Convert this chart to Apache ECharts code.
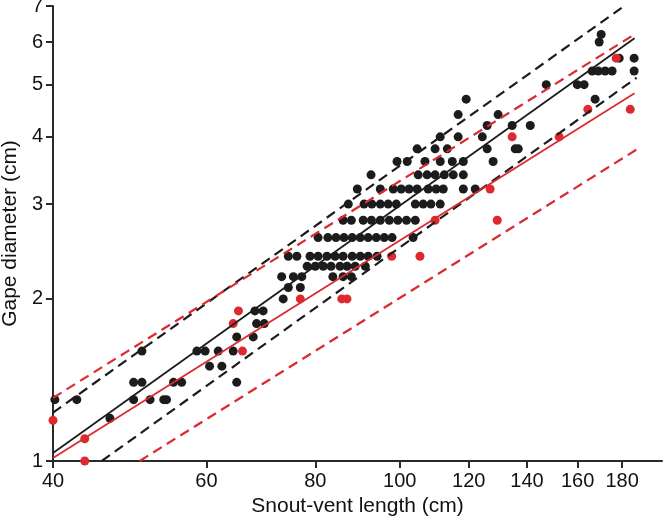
<!DOCTYPE html>
<html>
<head>
<meta charset="utf-8">
<script src="https://cdn.jsdelivr.net/npm/echarts@6/dist/echarts.min.js"></script>
<style>
  html, body { margin: 0; padding: 0; background: #fff; }
  #chart { width: 664px; height: 523px; }
</style>
</head>
<body>
<div id="chart"></div>
<script>
// tick values on both log axes
const xTicks = [40, 60, 80, 100, 120, 140, 160, 180];
const yTicks = [1, 2, 3, 4, 5, 6, 7];

// black points: [snout-vent length, gape diameter]
const blackPoints = [
    [46.5, 1.2],
    [40.2, 1.3], [42.6, 1.3], [49.5, 1.3], [51.7, 1.3], [53.6, 1.3], [54.0, 1.3],
    [49.5, 1.4], [50.6, 1.4], [55.0, 1.4], [56.2, 1.4], [65.0, 1.4],
    [60.5, 1.5], [62.5, 1.5],
    [50.6, 1.6], [58.5, 1.6], [59.8, 1.6], [61.9, 1.6], [64.4, 1.6],
    [65.0, 1.7], [67.9, 1.7],
    [68.5, 1.8], [69.9, 1.8],
    [68.2, 1.9], [69.7, 1.9],
    [73.5, 2.0],
    [74.5, 2.1], [76.9, 2.1],
    [73.2, 2.2], [75.5, 2.2], [77.2, 2.2], [83.8, 2.2], [86.1, 2.2], [88.0, 2.2],
    [78.3, 2.3], [80.0, 2.3], [81.7, 2.3], [83.4, 2.3], [85.4, 2.3], [87.0, 2.3], [88.9, 2.3], [91.3, 2.3],
    [74.5, 2.4], [76.2, 2.4], [78.9, 2.4], [80.6, 2.4], [82.5, 2.4], [84.3, 2.4], [86.1, 2.4],
    [88.2, 2.4], [90.1, 2.4], [92.0, 2.4], [94.2, 2.4],
    [80.6, 2.6], [82.7, 2.6], [84.5, 2.6], [86.3, 2.6], [88.2, 2.6], [90.1, 2.6], [92.0, 2.6],
    [94.0, 2.6], [96.0, 2.6], [98.0, 2.6], [103.6, 2.6],
    [86.1, 2.8], [88.0, 2.8], [90.8, 2.8], [92.8, 2.8], [95.0, 2.8], [97.3, 2.8], [99.5, 2.8],
    [101.8, 2.8], [104.2, 2.8],
    [87.3, 3.0], [91.0, 3.0], [92.9, 3.0], [95.0, 3.0], [97.0, 3.0], [99.1, 3.0], [104.2, 3.0],
    [106.4, 3.0], [108.6, 3.0], [111.3, 3.0],
    [89.4, 3.2], [95.0, 3.2], [98.3, 3.2], [100.4, 3.2], [102.5, 3.2], [104.7, 3.2], [107.8, 3.2],
    [110.1, 3.2], [112.2, 3.2], [118.3, 3.2], [122.1, 3.2],
    [92.7, 3.4], [105.0, 3.4], [107.5, 3.4], [109.8, 3.4], [112.5, 3.4], [115.2, 3.4], [118.3, 3.4],
    [99.3, 3.6], [102.0, 3.6], [106.9, 3.6], [111.3, 3.6], [114.9, 3.6], [118.3, 3.6], [128.0, 3.6],
    [104.7, 3.8], [109.8, 3.8], [113.4, 3.8], [126.0, 3.8], [135.7, 3.8], [136.8, 3.8],
    [111.3, 4.0], [116.7, 4.0], [124.4, 4.0],
    [126.0, 4.2], [134.6, 4.2], [141.2, 4.2],
    [116.7, 4.4], [129.7, 4.4],
    [119.2, 4.7], [167.6, 4.7],
    [147.3, 5.0], [159.9, 5.0], [162.8, 5.0],
    [166.3, 5.3], [169.0, 5.3], [172.1, 5.3], [175.3, 5.3], [185.8, 5.3],
    [178.6, 5.6], [185.8, 5.6],
    [169.4, 6.0],
    [170.3, 6.2]
];

// red points
const redPoints = [
    [40.0, 1.19], [43.5, 1.1], [43.5, 1.0],
    [64.4, 1.8], [65.3, 1.9], [66.0, 1.6],
    [76.9, 2.0], [85.8, 2.0], [87.0, 2.0],
    [97.9, 2.4], [105.5, 2.4],
    [109.8, 2.8], [129.4, 2.8],
    [127.0, 3.2],
    [134.6, 4.0], [152.4, 4.0],
    [164.4, 4.5], [183.9, 4.5],
    [177.2, 5.6]
];

// fitted lines and prediction bounds (end points)
const blackFit = [[40, 1.035], [186, 6.1]];
const blackUpper = [[40, 1.23], [181, 7.0]];
const blackLower = [[45.5, 1.0], [187, 5.15]];
const redFit = [[40, 1.013], [186, 4.82]];
const redUpper = [[40, 1.31], [186, 6.2]];
const redLower = [[50.3, 1.0], [189, 3.83]];

const BLACK = '#1c1c1c';
const RED = '#dc2a2e';
const AXIS = '#2a2a2a';

function lineSeries(data, color, dashed) {
    return {
        type: 'line',
        data: data,
        symbol: 'none',
        silent: true,
        z: 5,
        lineStyle: {
            color: color,
            width: dashed ? 2.2 : 1.8,
            type: dashed ? [10, 6] : 'solid'
        }
    };
}

const chart = echarts.init(document.getElementById('chart'));

chart.setOption({
    animation: false,
    backgroundColor: '#fff',
    grid: { left: 53, right: 2, top: 6, bottom: 62, containLabel: false, outerBoundsMode: 'none' },
    xAxis: {
        type: 'log',
        logBase: 10,
        min: 40,
        max: 200,
        name: 'Snout-vent length (cm)',
        nameLocation: 'middle',
        nameGap: 33,
        nameTextStyle: { fontFamily: 'Liberation Sans', fontSize: 21, color: '#111' },
        axisLine: { lineStyle: { color: AXIS, width: 2 } },
        axisTick: { customValues: xTicks, length: 7, lineStyle: { color: AXIS, width: 2 } },
        axisLabel: {
            customValues: xTicks,
            margin: 10,
            fontFamily: 'Liberation Sans',
            fontSize: 20,
            color: '#111'
        },
        minorTick: { show: false },
        splitLine: { show: false }
    },
    yAxis: {
        type: 'log',
        logBase: 10,
        min: 1,
        max: 7,
        name: 'Gape diameter (cm)',
        nameLocation: 'middle',
        nameGap: 30,
        nameTextStyle: { fontFamily: 'Liberation Sans', fontSize: 21, color: '#111' },
        axisLine: { lineStyle: { color: AXIS, width: 2 } },
        axisTick: { customValues: yTicks, length: 7, lineStyle: { color: AXIS, width: 2 } },
        axisLabel: {
            customValues: yTicks,
            margin: 10,
            padding: [6, 0, 0, 0],
            fontFamily: 'Liberation Sans',
            fontSize: 20,
            color: '#111'
        },
        minorTick: { show: false },
        splitLine: { show: false }
    },
    series: [
        {
            type: 'scatter',
            data: blackPoints,
            symbolSize: 9,
            z: 2,
            itemStyle: { color: BLACK, opacity: 1 }
        },
        {
            type: 'scatter',
            data: redPoints,
            symbolSize: 9,
            z: 3,
            itemStyle: { color: RED, opacity: 1 }
        },
        lineSeries(blackUpper, BLACK, true),
        lineSeries(blackLower, BLACK, true),
        lineSeries(redUpper, RED, true),
        lineSeries(redLower, RED, true),
        lineSeries(blackFit, BLACK, false),
        lineSeries(redFit, RED, false)
    ]
});
</script>
</body>
</html>
